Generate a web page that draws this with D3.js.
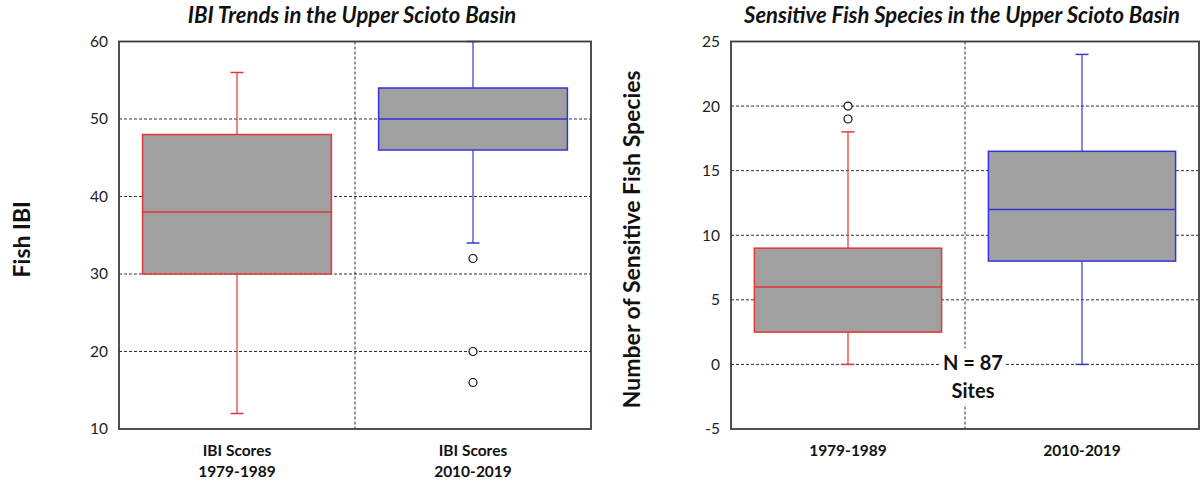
<!DOCTYPE html>
<html>
<head>
<meta charset="utf-8">
<script src="https://cdn.jsdelivr.net/npm/d3@7"></script>
<style>
  body { margin: 0; background: #fff; }
  svg { display: block; font-family: Lato, "Open Sans", sans-serif; }
</style>
</head>
<body>
<svg id="chart" width="1204" height="483"></svg>
<script>
// IBI chart data
const ibiCategories = ["1979-1989", "2010-2019"];
const ibiLabels = [["IBI Scores", "1979-1989"], ["IBI Scores", "2010-2019"]];
const ibiQ1 = [30, 46];
const ibiMedian = [38, 50];
const ibiQ3 = [48, 54];
const ibiLow = [12, 34];
const ibiHigh = [56, 60];
const ibiOutliers = [[], [32, 20, 16]];
const ibiTicks = [10, 20, 30, 40, 50, 60];

// sensitive species chart data
const sppCategories = ["1979-1989", "2010-2019"];
const sppLabels = [["1979-1989"], ["2010-2019"]];
const sppQ1 = [2.5, 8];
const sppMedian = [6, 12];
const sppQ3 = [9, 16.5];
const sppLow = [0, 0];
const sppHigh = [18, 24];
const sppOutliers = [[20, 19], []];
const sppTicks = [-5, 0, 5, 10, 15, 20, 25];

const seriesColors = ["#e53535", "#3434d8"];
const boxFill = "#a0a0a0";
const axisColor = "#3c3c3c";

const svg = d3.select("#chart");

function drawPanel(opts) {
    const { left, top, width, height, categories, labels, q1, median, q3, low, high, outliers, ticks, title, yTitle, yTitleX } = opts;

    const g = svg.append("g").attr("transform", `translate(${left},${top})`);

    const x = d3.scaleBand().domain(categories).range([0, width]).padding(0);
    const y = d3.scaleLinear().domain(d3.extent(ticks)).range([height, 0]);
    const boxW = x.bandwidth() * 0.8;
    const capW = 13;

    // horizontal grid
    g.selectAll(".hgrid")
        .data(ticks.slice(1, -1))
        .enter().append("line")
        .attr("x1", 0).attr("x2", width)
        .attr("y1", d => y(d)).attr("y2", d => y(d))
        .attr("stroke", "#333").attr("stroke-width", 1)
        .attr("stroke-dasharray", "3,2");

    // vertical divider between the groups
    g.append("line")
        .attr("x1", width / 2).attr("x2", width / 2)
        .attr("y1", 0).attr("y2", height)
        .attr("stroke", "#333").attr("stroke-width", 1)
        .attr("stroke-dasharray", "3,2");

    const boxes = categories.map((c, i) => ({
        c, i, q1: q1[i], med: median[i], q3: q3[i], lo: low[i], hi: high[i], out: outliers[i]
    }));

    const bg = g.selectAll(".box").data(boxes).enter().append("g")
        .attr("transform", d => `translate(${x(d.c) + x.bandwidth() / 2},0)`);

    // whiskers
    bg.append("line")
        .attr("x1", 0).attr("x2", 0)
        .attr("y1", d => y(d.hi)).attr("y2", d => y(d.q3))
        .attr("stroke", d => seriesColors[d.i]).attr("stroke-width", 1.2);
    bg.append("line")
        .attr("x1", 0).attr("x2", 0)
        .attr("y1", d => y(d.q1)).attr("y2", d => y(d.lo))
        .attr("stroke", d => seriesColors[d.i]).attr("stroke-width", 1.2);
    bg.append("line")
        .attr("x1", -capW / 2).attr("x2", capW / 2)
        .attr("y1", d => y(d.hi)).attr("y2", d => y(d.hi))
        .attr("stroke", d => seriesColors[d.i]).attr("stroke-width", 1.5);
    bg.append("line")
        .attr("x1", -capW / 2).attr("x2", capW / 2)
        .attr("y1", d => y(d.lo)).attr("y2", d => y(d.lo))
        .attr("stroke", d => seriesColors[d.i]).attr("stroke-width", 1.5);

    // box
    bg.append("rect")
        .attr("x", -boxW / 2).attr("width", boxW)
        .attr("y", d => y(d.q3)).attr("height", d => y(d.q1) - y(d.q3))
        .attr("fill", boxFill)
        .attr("stroke", d => seriesColors[d.i]).attr("stroke-width", 1.5);
    bg.append("line")
        .attr("x1", -boxW / 2).attr("x2", boxW / 2)
        .attr("y1", d => y(d.med)).attr("y2", d => y(d.med))
        .attr("stroke", d => seriesColors[d.i]).attr("stroke-width", 1.5);

    // outliers
    bg.selectAll(".out").data(d => d.out).enter().append("circle")
        .attr("cx", 0).attr("cy", d => y(d)).attr("r", 4)
        .attr("fill", "#fff").attr("stroke", "#111").attr("stroke-width", 1.2);

    // frame
    g.append("rect")
        .attr("width", width).attr("height", height)
        .attr("fill", "none").attr("stroke", axisColor).attr("stroke-width", 1.8);

    // y axis labels (plain hyphen for negatives, like the original)
    const yAxis = g.append("g").call(d3.axisLeft(y).tickValues(ticks).tickSize(0).tickPadding(11)
        .tickFormat(d => String(d)));
    yAxis.select(".domain").remove();
    yAxis.selectAll("text").attr("font-size", 15.5).attr("fill", "#222")
        .attr("font-family", "Lato, sans-serif");

    // x axis labels
    const xl = g.append("g").attr("transform", `translate(0,${height})`);
    xl.selectAll("text").data(categories).enter().append("text")
        .attr("x", d => x(d) + x.bandwidth() / 2)
        .attr("y", 27)
        .attr("text-anchor", "middle")
        .attr("font-size", 15.5).attr("font-weight", "bold").attr("fill", "#111")
        .selectAll("tspan").data((d, i) => labels[i]).enter().append("tspan")
        .attr("x", function () { return this.parentNode.getAttribute("x"); })
        .attr("dy", (d, j) => j === 0 ? 0 : 21)
        .text(d => d);

    // title
    svg.append("text")
        .attr("x", left + width / 2 - 3).attr("y", 23)
        .attr("text-anchor", "middle")
        .attr("font-size", 22).attr("font-weight", "bold").attr("font-style", "italic")
        .attr("fill", "#111")
        .text(title);

    // y title
    svg.append("text")
        .attr("transform", `translate(${yTitleX},${top + height / 2 + 4}) rotate(-90)`)
        .attr("text-anchor", "middle")
        .attr("font-size", 23).attr("font-weight", "bold").attr("fill", "#111")
        .text(yTitle);

    return { g, x, y };
}

drawPanel({
    left: 119, top: 41.5, width: 472, height: 387.5,
    categories: ibiCategories, labels: ibiLabels,
    q1: ibiQ1, median: ibiMedian, q3: ibiQ3, low: ibiLow, high: ibiHigh, outliers: ibiOutliers,
    ticks: ibiTicks,
    title: "IBI Trends in the Upper Scioto Basin",
    yTitle: "Fish IBI", yTitleX: 30
});

const right = drawPanel({
    left: 731, top: 41.5, width: 468, height: 387.5,
    categories: sppCategories, labels: sppLabels,
    q1: sppQ1, median: sppMedian, q3: sppQ3, low: sppLow, high: sppHigh, outliers: sppOutliers,
    ticks: sppTicks,
    title: "Sensitive Fish Species in the Upper Scioto Basin",
    yTitle: "Number of Sensitive Fish Species", yTitleX: 640
});

// sample size note
const note = right.g.append("g").attr("transform", `translate(${242},0)`);
const noteText = note.append("text")
    .attr("text-anchor", "middle")
    .attr("font-size", 20).attr("font-weight", "bold").attr("fill", "#111");
noteText.append("tspan").attr("x", 0).attr("y", right.y(0) + 6).text("N = 87");
noteText.append("tspan").attr("x", 0).attr("y", right.y(0) + 34).text("Sites");
const bb = noteText.node().getBBox();
note.insert("rect", "text")
    .attr("x", bb.x - 2).attr("y", bb.y - 2)
    .attr("width", bb.width + 4).attr("height", bb.height + 4)
    .attr("fill", "#fff");
</script>
</body>
</html>
